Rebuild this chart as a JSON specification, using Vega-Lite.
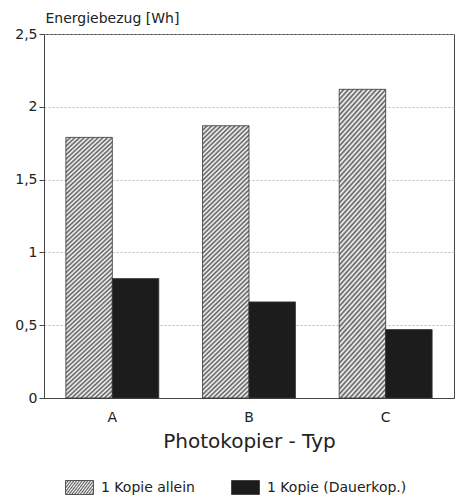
{
  "$schema": "https://vega.github.io/schema/vega-lite/v6.json",
  "width": 410,
  "height": 364,
  "autosize": {"type": "none"},
  "padding": {"left": 44, "top": 34, "right": 4, "bottom": 104},
  "background": "white",
  "config": {
    "font": "DejaVu Sans",
    "view": {"stroke": "#444444", "strokeWidth": 1}
  },
  "data": {
    "values": [
      {"typ": "A", "serie": "1 Kopie allein", "wh": 1.79},
      {"typ": "A", "serie": "1 Kopie (Dauerkop.)", "wh": 0.82},
      {"typ": "B", "serie": "1 Kopie allein", "wh": 1.87},
      {"typ": "B", "serie": "1 Kopie (Dauerkop.)", "wh": 0.66},
      {"typ": "C", "serie": "1 Kopie allein", "wh": 2.12},
      {"typ": "C", "serie": "1 Kopie (Dauerkop.)", "wh": 0.47}
    ]
  },
  "encoding": {
    "x": {
      "field": "typ", "type": "nominal",
      "scale": {"paddingInner": 0.32, "paddingOuter": 0.16},
      "axis": {
        "title": "Photokopier - Typ", "labelAngle": 0, "ticks": false,
        "labelPadding": 12, "labelFontSize": 14, "labelColor": "#222222",
        "titleFontSize": 20, "titleFontWeight": "normal", "titlePadding": 7, "titleColor": "#222222",
        "domainColor": "#444444"
      }
    },
    "xOffset": {
      "field": "serie", "type": "nominal",
      "scale": {"domain": ["1 Kopie allein", "1 Kopie (Dauerkop.)"], "paddingInner": 0, "paddingOuter": 0}
    },
    "y": {
      "field": "wh", "type": "quantitative",
      "scale": {"domain": [0, 2.5], "nice": false},
      "axis": {
        "title": "Energiebezug [Wh]", "titleAngle": 0, "titleX": 1, "titleY": -12,
        "titleAlign": "left", "titleBaseline": "alphabetic", "titleFontSize": 14,
        "titleFontWeight": "normal", "titleColor": "#222222",
        "values": [0, 0.5, 1, 1.5, 2, 2.5],
        "labelExpr": "replace(format(datum.value, ''), '.', ',')",
        "labelFontSize": 14, "labelColor": "#222222", "labelPadding": 2,
        "tickSize": 5, "tickColor": "#444444", "domainColor": "#444444",
        "grid": true, "gridColor": "#aaaaaa", "gridDash": [2, 2], "gridWidth": 0.8
      }
    }
  },
  "layer": [
    {
      "transform": [{"filter": "datum.serie == '1 Kopie allein'"}],
      "mark": {"type": "bar", "strokeWidth": 0.8},
      "encoding": {
        "fill": {
          "value": {
            "gradient": "linear", "x1": 0, "y1": 0, "x2": 0.19, "y2": 1.14,
            "stops": [
              {"offset": 0, "color": "#5a5a5a"}, {"offset": 0.00714, "color": "#ffffff"},
              {"offset": 0.01429, "color": "#5a5a5a"}, {"offset": 0.02143, "color": "#ffffff"},
              {"offset": 0.02857, "color": "#5a5a5a"}, {"offset": 0.03571, "color": "#ffffff"},
              {"offset": 0.04286, "color": "#5a5a5a"}, {"offset": 0.05, "color": "#ffffff"},
              {"offset": 0.05714, "color": "#5a5a5a"}, {"offset": 0.06429, "color": "#ffffff"},
              {"offset": 0.07143, "color": "#5a5a5a"}, {"offset": 0.07857, "color": "#ffffff"},
              {"offset": 0.08571, "color": "#5a5a5a"}, {"offset": 0.09286, "color": "#ffffff"},
              {"offset": 0.1, "color": "#5a5a5a"}, {"offset": 0.10714, "color": "#ffffff"},
              {"offset": 0.11429, "color": "#5a5a5a"}, {"offset": 0.12143, "color": "#ffffff"},
              {"offset": 0.12857, "color": "#5a5a5a"}, {"offset": 0.13571, "color": "#ffffff"},
              {"offset": 0.14286, "color": "#5a5a5a"}, {"offset": 0.15, "color": "#ffffff"},
              {"offset": 0.15714, "color": "#5a5a5a"}, {"offset": 0.16429, "color": "#ffffff"},
              {"offset": 0.17143, "color": "#5a5a5a"}, {"offset": 0.17857, "color": "#ffffff"},
              {"offset": 0.18571, "color": "#5a5a5a"}, {"offset": 0.19286, "color": "#ffffff"},
              {"offset": 0.2, "color": "#5a5a5a"}, {"offset": 0.20714, "color": "#ffffff"},
              {"offset": 0.21429, "color": "#5a5a5a"}, {"offset": 0.22143, "color": "#ffffff"},
              {"offset": 0.22857, "color": "#5a5a5a"}, {"offset": 0.23571, "color": "#ffffff"},
              {"offset": 0.24286, "color": "#5a5a5a"}, {"offset": 0.25, "color": "#ffffff"},
              {"offset": 0.25714, "color": "#5a5a5a"}, {"offset": 0.26429, "color": "#ffffff"},
              {"offset": 0.27143, "color": "#5a5a5a"}, {"offset": 0.27857, "color": "#ffffff"},
              {"offset": 0.28571, "color": "#5a5a5a"}, {"offset": 0.29286, "color": "#ffffff"},
              {"offset": 0.3, "color": "#5a5a5a"}, {"offset": 0.30714, "color": "#ffffff"},
              {"offset": 0.31429, "color": "#5a5a5a"}, {"offset": 0.32143, "color": "#ffffff"},
              {"offset": 0.32857, "color": "#5a5a5a"}, {"offset": 0.33571, "color": "#ffffff"},
              {"offset": 0.34286, "color": "#5a5a5a"}, {"offset": 0.35, "color": "#ffffff"},
              {"offset": 0.35714, "color": "#5a5a5a"}, {"offset": 0.36429, "color": "#ffffff"},
              {"offset": 0.37143, "color": "#5a5a5a"}, {"offset": 0.37857, "color": "#ffffff"},
              {"offset": 0.38571, "color": "#5a5a5a"}, {"offset": 0.39286, "color": "#ffffff"},
              {"offset": 0.4, "color": "#5a5a5a"}, {"offset": 0.40714, "color": "#ffffff"},
              {"offset": 0.41429, "color": "#5a5a5a"}, {"offset": 0.42143, "color": "#ffffff"},
              {"offset": 0.42857, "color": "#5a5a5a"}, {"offset": 0.43571, "color": "#ffffff"},
              {"offset": 0.44286, "color": "#5a5a5a"}, {"offset": 0.45, "color": "#ffffff"},
              {"offset": 0.45714, "color": "#5a5a5a"}, {"offset": 0.46429, "color": "#ffffff"},
              {"offset": 0.47143, "color": "#5a5a5a"}, {"offset": 0.47857, "color": "#ffffff"},
              {"offset": 0.48571, "color": "#5a5a5a"}, {"offset": 0.49286, "color": "#ffffff"},
              {"offset": 0.5, "color": "#5a5a5a"}, {"offset": 0.50714, "color": "#ffffff"},
              {"offset": 0.51429, "color": "#5a5a5a"}, {"offset": 0.52143, "color": "#ffffff"},
              {"offset": 0.52857, "color": "#5a5a5a"}, {"offset": 0.53571, "color": "#ffffff"},
              {"offset": 0.54286, "color": "#5a5a5a"}, {"offset": 0.55, "color": "#ffffff"},
              {"offset": 0.55714, "color": "#5a5a5a"}, {"offset": 0.56429, "color": "#ffffff"},
              {"offset": 0.57143, "color": "#5a5a5a"}, {"offset": 0.57857, "color": "#ffffff"},
              {"offset": 0.58571, "color": "#5a5a5a"}, {"offset": 0.59286, "color": "#ffffff"},
              {"offset": 0.6, "color": "#5a5a5a"}, {"offset": 0.60714, "color": "#ffffff"},
              {"offset": 0.61429, "color": "#5a5a5a"}, {"offset": 0.62143, "color": "#ffffff"},
              {"offset": 0.62857, "color": "#5a5a5a"}, {"offset": 0.63571, "color": "#ffffff"},
              {"offset": 0.64286, "color": "#5a5a5a"}, {"offset": 0.65, "color": "#ffffff"},
              {"offset": 0.65714, "color": "#5a5a5a"}, {"offset": 0.66429, "color": "#ffffff"},
              {"offset": 0.67143, "color": "#5a5a5a"}, {"offset": 0.67857, "color": "#ffffff"},
              {"offset": 0.68571, "color": "#5a5a5a"}, {"offset": 0.69286, "color": "#ffffff"},
              {"offset": 0.7, "color": "#5a5a5a"}, {"offset": 0.70714, "color": "#ffffff"},
              {"offset": 0.71429, "color": "#5a5a5a"}, {"offset": 0.72143, "color": "#ffffff"},
              {"offset": 0.72857, "color": "#5a5a5a"}, {"offset": 0.73571, "color": "#ffffff"},
              {"offset": 0.74286, "color": "#5a5a5a"}, {"offset": 0.75, "color": "#ffffff"},
              {"offset": 0.75714, "color": "#5a5a5a"}, {"offset": 0.76429, "color": "#ffffff"},
              {"offset": 0.77143, "color": "#5a5a5a"}, {"offset": 0.77857, "color": "#ffffff"},
              {"offset": 0.78571, "color": "#5a5a5a"}, {"offset": 0.79286, "color": "#ffffff"},
              {"offset": 0.8, "color": "#5a5a5a"}, {"offset": 0.80714, "color": "#ffffff"},
              {"offset": 0.81429, "color": "#5a5a5a"}, {"offset": 0.82143, "color": "#ffffff"},
              {"offset": 0.82857, "color": "#5a5a5a"}, {"offset": 0.83571, "color": "#ffffff"},
              {"offset": 0.84286, "color": "#5a5a5a"}, {"offset": 0.85, "color": "#ffffff"},
              {"offset": 0.85714, "color": "#5a5a5a"}, {"offset": 0.86429, "color": "#ffffff"},
              {"offset": 0.87143, "color": "#5a5a5a"}, {"offset": 0.87857, "color": "#ffffff"},
              {"offset": 0.88571, "color": "#5a5a5a"}, {"offset": 0.89286, "color": "#ffffff"},
              {"offset": 0.9, "color": "#5a5a5a"}, {"offset": 0.90714, "color": "#ffffff"},
              {"offset": 0.91429, "color": "#5a5a5a"}, {"offset": 0.92143, "color": "#ffffff"},
              {"offset": 0.92857, "color": "#5a5a5a"}, {"offset": 0.93571, "color": "#ffffff"},
              {"offset": 0.94286, "color": "#5a5a5a"}, {"offset": 0.95, "color": "#ffffff"},
              {"offset": 0.95714, "color": "#5a5a5a"}, {"offset": 0.96429, "color": "#ffffff"},
              {"offset": 0.97143, "color": "#5a5a5a"}, {"offset": 0.97857, "color": "#ffffff"},
              {"offset": 0.98571, "color": "#5a5a5a"}, {"offset": 0.99286, "color": "#ffffff"},
              {"offset": 1, "color": "#5a5a5a"}
            ]
          }
        },
        "stroke": {
          "field": "serie", "type": "nominal",
          "scale": {"domain": ["1 Kopie allein"], "range": ["#333333"]},
          "legend": {
            "orient": "none", "direction": "horizontal", "legendX": 21, "legendY": 439,
            "title": null, "padding": 0,
            "symbolType": "M-1,-0.5H1V0.5H-1Z", "symbolSize": 784, "symbolStrokeWidth": 0.8,
            "labelFontSize": 14, "labelColor": "#222222", "labelOffset": 7,
            "encode": {
              "symbols": {
                "update": {
                  "fill": {
                    "value": {
                      "gradient": "linear", "x1": 0, "y1": 0, "x2": 1.2, "y2": 0.6,
                      "stops": [
                        {"offset": 0, "color": "#5a5a5a"}, {"offset": 0.05, "color": "#ffffff"},
                        {"offset": 0.1, "color": "#5a5a5a"}, {"offset": 0.15, "color": "#ffffff"},
                        {"offset": 0.2, "color": "#5a5a5a"}, {"offset": 0.25, "color": "#ffffff"},
                        {"offset": 0.3, "color": "#5a5a5a"}, {"offset": 0.35, "color": "#ffffff"},
                        {"offset": 0.4, "color": "#5a5a5a"}, {"offset": 0.45, "color": "#ffffff"},
                        {"offset": 0.5, "color": "#5a5a5a"}, {"offset": 0.55, "color": "#ffffff"},
                        {"offset": 0.6, "color": "#5a5a5a"}, {"offset": 0.65, "color": "#ffffff"},
                        {"offset": 0.7, "color": "#5a5a5a"}, {"offset": 0.75, "color": "#ffffff"},
                        {"offset": 0.8, "color": "#5a5a5a"}, {"offset": 0.85, "color": "#ffffff"},
                        {"offset": 0.9, "color": "#5a5a5a"}, {"offset": 0.95, "color": "#ffffff"},
                        {"offset": 1, "color": "#5a5a5a"}
                      ]
                    }
                  }
                }
              }
            }
          }
        }
      }
    },
    {
      "transform": [{"filter": "datum.serie == '1 Kopie (Dauerkop.)'"}],
      "mark": {"type": "bar", "stroke": "#333333", "strokeWidth": 0.8},
      "encoding": {
        "fill": {
          "field": "serie", "type": "nominal",
          "scale": {"domain": ["1 Kopie (Dauerkop.)"], "range": ["#1c1c1c"]},
          "legend": {
            "orient": "none", "direction": "horizontal", "legendX": 187, "legendY": 439,
            "title": null, "padding": 0,
            "symbolType": "M-1,-0.5H1V0.5H-1Z", "symbolSize": 784,
            "symbolStrokeColor": "#333333", "symbolStrokeWidth": 0.8,
            "labelFontSize": 14, "labelColor": "#222222", "labelOffset": 7
          }
        }
      }
    }
  ]
}
